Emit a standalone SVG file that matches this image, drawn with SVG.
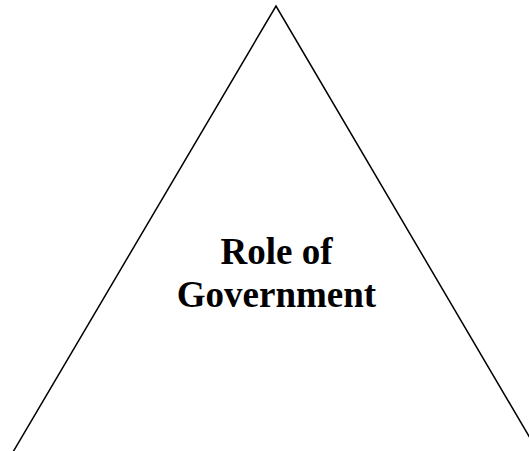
<svg xmlns="http://www.w3.org/2000/svg" width="529" height="451" viewBox="0 0 529 451">
  <style>
    .edge { fill: none; stroke: #000; stroke-width: 1.5; }
    .label { font-family: "Liberation Serif", "Times New Roman", serif; font-weight: bold; font-size: 37px; fill: #000; text-anchor: middle; }
  </style>
  <rect width="529" height="451" fill="#fff"/>
  <g id="connectors">
    <!-- two sides of the open triangle, meeting at the apex -->
    <polyline class="edge" points="13,452 276,6 540,455"/>
  </g>
  <g id="role-of-government">
    <text class="label" x="276.5" y="264">Role of</text>
    <text class="label" x="276.5" y="307">Government</text>
  </g>
</svg>
